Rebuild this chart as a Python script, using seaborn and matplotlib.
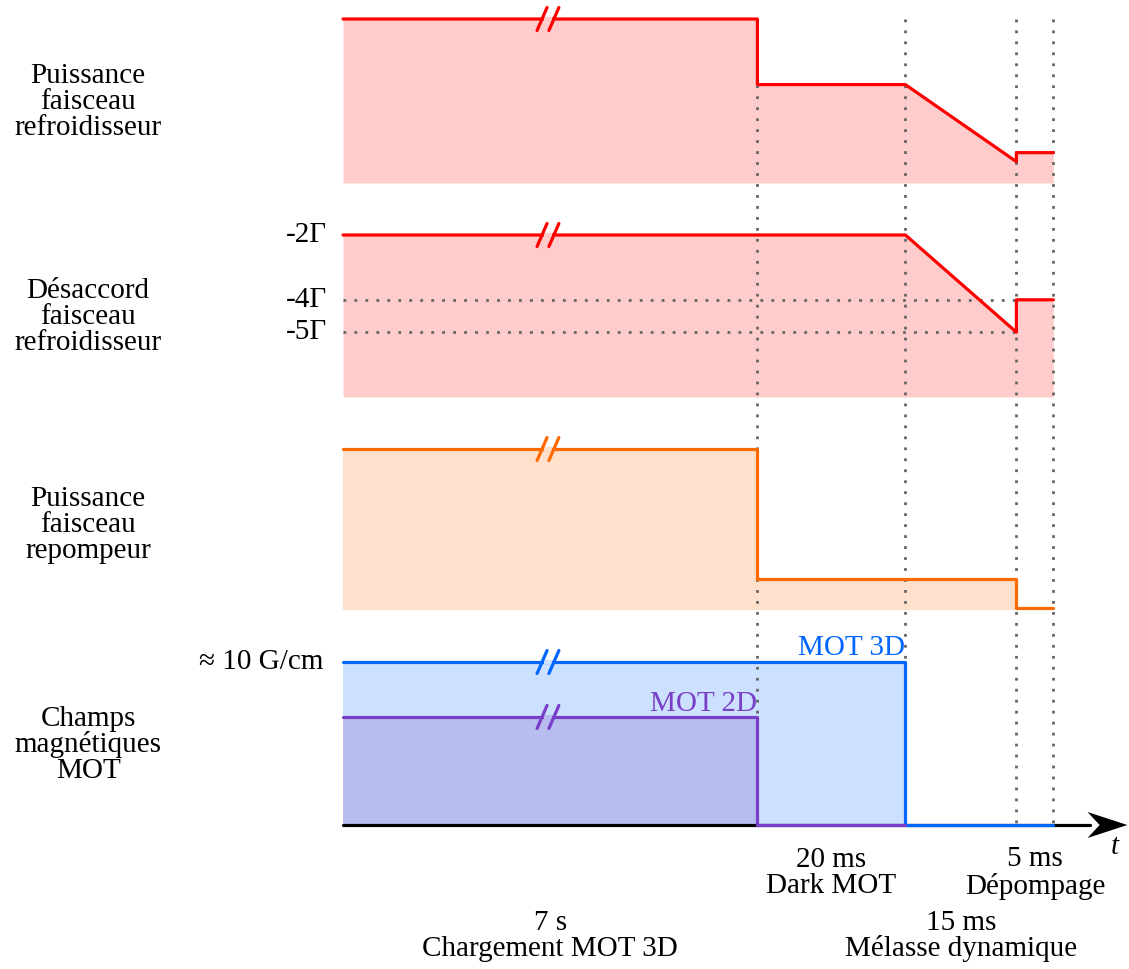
import seaborn as sns
import matplotlib.pyplot as plt
import pandas as pd

# time edges of the sequence (schematic units, 1 unit = 5 ms, loading is cut)
t_edges = [0, 11.2, 15.2, 18.2, 19.2]
phase_names = ["7 s\nChargement MOT 3D", "20 ms\nDark MOT", "15 ms\nMélasse dynamique", "5 ms\nDépompage"]

# cooling beam power (relative)
cool_t = [0, 11.2, 11.2, 15.2, 18.2, 18.2, 19.2]
cool_p = [1, 1, 0.6, 0.6, 0.13, 0.185, 0.185]

# cooling beam detuning (in units of Gamma)
det_t = [0, 15.2, 18.2, 18.2, 19.2]
det_v = [-2, -2, -5, -4, -4]
det_ticks = [-2, -4, -5]

# repump power (relative)
rep_t = [0, 11.2, 11.2, 18.2, 18.2, 19.2]
rep_p = [1, 1, 0.19, 0.19, 0.01, 0.01]

# magnetic fields (relative to ~10 G/cm)
mot3_t = [0, 15.2, 15.2, 19.2]
mot3_b = [1, 1, 0, 0]
mot2_t = [0, 11.2, 11.2, 15.2]
mot2_b = [0.663, 0.663, 0, 0]

row_labels = ["Puissance\nfaisceau\nrefroidisseur", "Désaccord\nfaisceau\nrefroidisseur",
              "Puissance\nfaisceau\nrepompeur", "Champs\nmagnétiques\nMOT"]

RED, RED_F = "#ff0000", "#ffcccc"
ORA, ORA_F = "#ff6a00", "#ffe0cc"
BLU, BLU_F = "#0066ff", "#cce0ff"
PUR, PUR_F = "#7a3fc8", "#b8bdf0"
DOT = "#666666"

sns.set_theme(style="white")
plt.rcParams['font.family'] = ['Liberation Serif', 'DejaVu Serif']
plt.rcParams['text.color'] = 'black'
FS = 21

fig = plt.figure(figsize=(11.29, 9.69), dpi=100)
ax = fig.add_axes([0, 0, 1, 1])
ax.set_xlim(-343 / 37, 786 / 37)
ax.set_ylim(969, 0)
ax.axis("off")

# vertical layout of each row: (baseline, height)
rows = {"cool": (183, 164), "rep": (610, 161), "mag": (825, 163)}


def lev(row, vals):
    base, h = rows[row]
    return [base - v * h for v in vals]


def det_y(vals):
    return [235 - (d + 2) * 32.4 for d in vals]


def line(x, y, color):
    df = pd.DataFrame({"t": x, "y": y})
    sns.lineplot(data=df, x="t", y="y", color=color, lw=2.3, estimator=None,
                 sort=False, ax=ax, zorder=5)


def brk(y, color, fill):
    xc = 5.54
    ax.plot([xc - 0.11, xc + 0.11], [y, y], color=fill, lw=3, zorder=6,
            solid_capstyle="butt")
    for dx in (-0.16, 0.16):
        ax.plot([xc + dx - 0.135, xc + dx + 0.135], [y + 11.5, y - 11.5],
                color=color, lw=2.3, zorder=6)


# row 1: cooling power
y1 = lev("cool", cool_p)
ax.fill_between(cool_t, y1, rows["cool"][0], color=RED_F, lw=0, zorder=1)
line(cool_t, y1, RED)
brk(y1[0], RED, RED_F)

# row 2: detuning
y2 = det_y(det_v)
ax.fill_between(det_t, y2, det_y([-7])[0], color=RED_F, lw=0, zorder=1)
line(det_t, y2, RED)
brk(y2[0], RED, RED_F)
for d in det_ticks:
    yy = det_y([d])[0]
    ax.text(-0.43, yy, f"-{abs(d)}Γ", ha="right", va="center", fontsize=FS)
    if d != -2:
        ax.plot([0, t_edges[3]], [yy, yy], color=DOT, lw=2,
                ls=(0, (1, 2.95)), zorder=3)

# row 3: repump
y3 = lev("rep", rep_p)
ax.fill_between(rep_t, y3, rows["rep"][0], color=ORA_F, lw=0, zorder=1)
line(rep_t, y3, ORA)
brk(y3[0], ORA, ORA_F)

# row 4: magnetic fields
y4a = lev("mag", mot3_b)
y4b = lev("mag", mot2_b)
ax.fill_between(mot3_t, y4a, rows["mag"][0], color=BLU_F, lw=0, zorder=1)
ax.fill_between(mot2_t, y4b, rows["mag"][0], color=PUR_F, lw=0, zorder=1.5)
base = rows["mag"][0]
ax.plot([0, 20.2], [base, base], color="black", lw=2.3, zorder=4)
tip = 21.2
ax.fill([tip, tip - 1.08, tip - 0.75, tip - 1.08],
        [base, base - 13, base, base + 13], color="black", lw=0, zorder=4)
line(mot3_t, y4a, BLU)
line(mot2_t, y4b, PUR)
brk(y4a[0], BLU, BLU_F)
brk(y4b[0], PUR, PUR_F)
ax.text(-0.54, y4a[0], "≈ 10 G/cm", ha="right", va="center", fontsize=FS)
ax.text(t_edges[2], y4a[0] - 7, "MOT 3D", ha="right", va="baseline",
        fontsize=FS, color=BLU)
ax.text(t_edges[1], y4b[0] - 6, "MOT 2D", ha="right", va="baseline",
        fontsize=FS, color=PUR)
ax.text(20.86, 847, "t", ha="center", va="center", fontsize=FS, style="italic")

# vertical dotted markers
for te in t_edges[1:]:
    ax.plot([te, te], [19, base], color=DOT, lw=2, ls=(0, (1, 2.95)), zorder=3)

# row labels
for lab, yc in zip(row_labels, [102, 317, 525, 745]):
    ax.text(-6.89, yc, lab, ha="center", va="center", fontsize=FS,
            linespacing=1.0)

# phase labels
for i, name in enumerate(phase_names):
    xm = (t_edges[i] + t_edges[i + 1]) / 2
    yc = 936 if i in (0, 2) else 873
    ax.text(xm, yc, name, ha="center", va="center", fontsize=FS,
            linespacing=1.0)

fig.savefig("out.png", dpi=100)
